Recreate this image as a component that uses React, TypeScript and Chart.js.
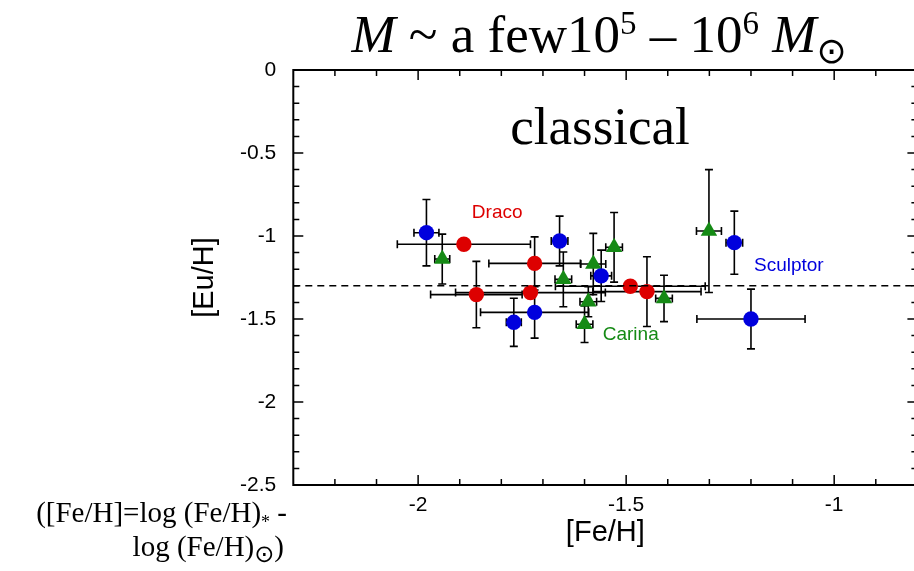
import React, { useEffect, useRef } from "react";
import { Chart, registerables } from "chart.js";

Chart.register(...registerables);

// ---- data ----
// Sculptor (blue circles)
const sculptorFeH = [-1.98, -1.66, -1.56, -1.72, -1.77, -1.24, -1.2];
const sculptorEuH = [-0.98, -1.03, -1.24, -1.46, -1.52, -1.04, -1.5];
const sculptorFeErr = [0.03, 0.02, 0.025, 0.13, 0.018, 0.02, 0.13];
const sculptorEuErr = [0.2, 0.15, 0.155, 0.155, 0.145, 0.19, 0.18];

// Draco (red circles)
const dracoFeH = [-1.89, -1.72, -1.86, -1.73, -1.49, -1.45];
const dracoEuH = [-1.05, -1.165, -1.353, -1.341, -1.303, -1.335];
const dracoFeErr = [0.16, 0.11, 0.11, 0.18, 0.18, 0.13];
const dracoEuErr = [0, 0.16, 0.2, 0, 0, 0.21];

// Carina (green triangles)
const carinaFeH = [-1.942, -1.651, -1.579, -1.529, -1.591, -1.6, -1.409, -1.301];
const carinaEuH = [-1.139, -1.261, -1.169, -1.068, -1.396, -1.532, -1.376, -0.97];
const carinaFeErr = [0.018, 0.02, 0.03, 0.02, 0.02, 0.02, 0.02, 0.03];
const carinaEuErr = [0.15, 0.165, 0.185, 0.21, 0.09, 0.11, 0.14, 0.37];

// horizontal dashed reference level
const refEuH = -1.3;

// axes
const xMin = -2.3;
const xMax = -0.8;
const yMin = -2.5;
const yMax = 0;
const xTickValues = [-2, -1.5, -1];
const yTickValues = [0, -0.5, -1, -1.5, -2, -2.5];
const minorStep = 0.1;

// in-plot labels
const labelTexts = ["Draco", "Sculptor", "Carina"];
const labelFeH = [-1.81, -1.109, -1.489];
const labelEuH = [-0.862, -1.178, -1.592];

const RED = "#dd0000";
const BLUE = "#0000dd";
const GREEN = "#158a15";
const labelColors = [RED, BLUE, GREEN];

const SANS = '"Liberation Sans", Arial, Helvetica, sans-serif';
const SERIF = '"Liberation Serif", "Times New Roman", serif';

const CANVAS_W = 930;
const CANVAS_H = 571;
const AREA_LEFT = 293.3;
const AREA_RIGHT = 917.4;
const AREA_TOP = 70;
const AREA_BOTTOM = 485;

function toPoints(xs: number[], ys: number[], xe: number[], ye: number[]) {
  return xs.map((x, i) => ({ x, y: ys[i], xErr: xe[i], yErr: ye[i] }));
}

type Run = { text: string; font: string; dy: number };

function drawRuns(ctx: CanvasRenderingContext2D, runs: Run[], x: number, y: number, align: "left" | "center" | "right") {
  let w = 0;
  for (const r of runs) {
    ctx.font = r.font;
    w += ctx.measureText(r.text).width;
  }
  let cx = align === "left" ? x : align === "center" ? x - w / 2 : x - w;
  ctx.textAlign = "left";
  ctx.textBaseline = "alphabetic";
  for (const r of runs) {
    ctx.font = r.font;
    ctx.fillText(r.text, cx, y + r.dy);
    cx += ctx.measureText(r.text).width;
  }
}

const errorBarPlugin = {
  id: "errorBars",
  beforeDatasetsDraw(chart: any) {
    const ctx: CanvasRenderingContext2D = chart.ctx;
    const xs = chart.scales.x;
    const ys = chart.scales.y;
    const cap = 4;
    ctx.save();
    ctx.strokeStyle = "#000";
    ctx.lineWidth = 1.6;
    chart.data.datasets.forEach((ds: any) => {
      if (!ds.hasErrors) return;
      ds.data.forEach((p: any) => {
        const px = xs.getPixelForValue(p.x);
        const py = ys.getPixelForValue(p.y);
        if (p.xErr > 0) {
          const l = xs.getPixelForValue(p.x - p.xErr);
          const r = xs.getPixelForValue(p.x + p.xErr);
          ctx.beginPath();
          ctx.moveTo(l, py);
          ctx.lineTo(r, py);
          ctx.moveTo(l, py - cap);
          ctx.lineTo(l, py + cap);
          ctx.moveTo(r, py - cap);
          ctx.lineTo(r, py + cap);
          ctx.stroke();
        }
        if (p.yErr > 0) {
          const t = ys.getPixelForValue(p.y + p.yErr);
          const b = ys.getPixelForValue(p.y - p.yErr);
          ctx.beginPath();
          ctx.moveTo(px, t);
          ctx.lineTo(px, b);
          ctx.moveTo(px - cap, t);
          ctx.lineTo(px + cap, t);
          ctx.moveTo(px - cap, b);
          ctx.lineTo(px + cap, b);
          ctx.stroke();
        }
      });
    });
    ctx.restore();
  },
};

const decorPlugin = {
  id: "decor",
  afterDraw(chart: any) {
    const ctx: CanvasRenderingContext2D = chart.ctx;
    const xs = chart.scales.x;
    const ys = chart.scales.y;
    const { left, right, top, bottom } = chart.chartArea;
    ctx.save();

    // frame
    ctx.strokeStyle = "#000";
    ctx.lineWidth = 2;
    ctx.strokeRect(left, top, right - left, bottom - top);

    // inward ticks
    ctx.lineWidth = 1.5;
    const nx = Math.round((xMax - xMin) / minorStep);
    for (let i = 1; i < nx; i++) {
      const v = xMin + i * minorStep;
      const major = Math.abs(v * 2 - Math.round(v * 2)) < 1e-6;
      const len = major ? 10 : 6;
      const px = xs.getPixelForValue(v);
      ctx.beginPath();
      ctx.moveTo(px, bottom);
      ctx.lineTo(px, bottom - len);
      ctx.moveTo(px, top);
      ctx.lineTo(px, top + len);
      ctx.stroke();
    }
    const ny = Math.round((yMax - yMin) / minorStep);
    for (let i = 1; i < ny; i++) {
      const v = yMin + i * minorStep;
      const major = Math.abs(v * 2 - Math.round(v * 2)) < 1e-6;
      const len = major ? 10 : 6;
      const py = ys.getPixelForValue(v);
      ctx.beginPath();
      ctx.moveTo(left, py);
      ctx.lineTo(left + len, py);
      ctx.moveTo(right, py);
      ctx.lineTo(right - len, py);
      ctx.stroke();
    }

    // in-plot labels
    ctx.textAlign = "center";
    ctx.textBaseline = "middle";
    ctx.font = `19px ${SANS}`;
    labelTexts.forEach((t, i) => {
      ctx.fillStyle = labelColors[i];
      ctx.fillText(t, xs.getPixelForValue(labelFeH[i]), ys.getPixelForValue(labelEuH[i]));
    });

    ctx.fillStyle = "#000";
    // "classical"
    ctx.font = `53px ${SERIF}`;
    ctx.textAlign = "center";
    ctx.textBaseline = "alphabetic";
    ctx.fillText("classical", 600, 144);

    // title
    const big = `53px ${SERIF}`;
    const bigI = `italic 53px ${SERIF}`;
    const sup = `33px ${SERIF}`;
    drawRuns(
      ctx,
      [
        { text: "M", font: bigI, dy: 0 },
        { text: " ~ a few10", font: big, dy: 0 },
        { text: "5", font: sup, dy: -18 },
        { text: " \u2013 10", font: big, dy: 0 },
        { text: "6", font: sup, dy: -18 },
        { text: " ", font: big, dy: 0 },
        { text: "M", font: bigI, dy: 0 },
        { text: "\u2299", font: `36px "DejaVu Sans", sans-serif`, dy: 11 },
      ],
      599,
      52,
      "center"
    );

    // axis titles
    ctx.font = `29px ${SANS}`;
    ctx.textAlign = "center";
    ctx.textBaseline = "alphabetic";
    ctx.fillText("[Fe/H]", (left + right) / 2, 541);
    ctx.save();
    ctx.translate(213, (top + bottom) / 2);
    ctx.rotate(-Math.PI / 2);
    ctx.fillText("[Eu/H]", 0, 0);
    ctx.restore();

    // footnote
    const fn = `29px ${SERIF}`;
    drawRuns(
      ctx,
      [
        { text: "([Fe/H]=log (Fe/H)", font: fn, dy: 0 },
        { text: "*", font: `18px ${SERIF}`, dy: 6 },
        { text: " -", font: fn, dy: 0 },
      ],
      287,
      522,
      "right"
    );
    drawRuns(
      ctx,
      [
        { text: "log (Fe/H)", font: fn, dy: 0 },
        { text: "\u2299", font: `24px "DejaVu Sans", sans-serif`, dy: 6 },
        { text: ")", font: fn, dy: 0 },
      ],
      284,
      556,
      "right"
    );

    ctx.restore();
  },
};

export default function App() {
  const canvasRef = useRef<HTMLCanvasElement | null>(null);

  useEffect(() => {
    const canvas = canvasRef.current;
    if (!canvas) return;
    const tickFont = { family: SANS, size: 21 };
    const chart = new Chart(canvas, {
      type: "scatter",
      data: {
        datasets: [
          {
            type: "line",
            label: "reference",
            data: [
              { x: xMin, y: refEuH },
              { x: xMax, y: refEuH },
            ],
            borderColor: "#000",
            borderWidth: 1.5,
            borderDash: [7, 5],
            pointRadius: 0,
            fill: false,
            order: 0,
          } as any,
          {
            label: "Draco",
            data: toPoints(dracoFeH, dracoEuH, dracoFeErr, dracoEuErr),
            hasErrors: true,
            pointStyle: "circle",
            pointRadius: 7.7,
            pointHoverRadius: 7.7,
            pointBackgroundColor: RED,
            backgroundColor: RED,
            pointBorderWidth: 0,
            borderWidth: 0,
            order: 1,
          } as any,
          {
            label: "Sculptor",
            data: toPoints(sculptorFeH, sculptorEuH, sculptorFeErr, sculptorEuErr),
            hasErrors: true,
            pointStyle: "circle",
            pointRadius: 7.7,
            pointHoverRadius: 7.7,
            pointBackgroundColor: BLUE,
            backgroundColor: BLUE,
            pointBorderWidth: 0,
            borderWidth: 0,
            order: 1,
          } as any,
          {
            label: "Carina",
            data: toPoints(carinaFeH, carinaEuH, carinaFeErr, carinaEuErr),
            hasErrors: true,
            pointStyle: "triangle",
            pointRadius: 9.5,
            pointHoverRadius: 9.5,
            pointBackgroundColor: GREEN,
            backgroundColor: GREEN,
            pointBorderWidth: 0,
            borderWidth: 0,
            order: 1,
          } as any,
        ],
      },
      options: {
        responsive: false,
        animation: false,
        events: [],
        layout: {
          padding: { top: AREA_TOP, right: CANVAS_W - AREA_RIGHT, left: 0, bottom: 0 },
        },
        plugins: {
          legend: { display: false },
          title: { display: false },
          tooltip: { enabled: false },
        },
        scales: {
          x: {
            type: "linear",
            position: "bottom",
            min: xMin,
            max: xMax,
            grid: { display: false, drawTicks: false },
            border: { display: false },
            ticks: {
              font: tickFont,
              color: "#000",
              padding: 8,
              autoSkip: false,
              maxRotation: 0,
              callback: (v: any) => String(v),
            },
            afterBuildTicks: (s: any) => {
              s.ticks = xTickValues.map((v) => ({ value: v }));
            },
            afterFit: (s: any) => {
              s.height = CANVAS_H - AREA_BOTTOM;
            },
          },
          y: {
            type: "linear",
            position: "left",
            min: yMin,
            max: yMax,
            grid: { display: false, drawTicks: false },
            border: { display: false },
            ticks: {
              font: tickFont,
              color: "#000",
              padding: 17,
              autoSkip: false,
              callback: (v: any) => String(v),
            },
            afterBuildTicks: (s: any) => {
              s.ticks = yTickValues.map((v) => ({ value: v }));
            },
            afterFit: (s: any) => {
              s.width = AREA_LEFT;
            },
          },
        },
      } as any,
      plugins: [errorBarPlugin, decorPlugin],
    });
    return () => chart.destroy();
  }, []);

  return (
    <div
      style={{
        position: "fixed",
        left: 0,
        top: 0,
        width: 914,
        height: 571,
        overflow: "hidden",
        background: "#fff",
      }}
    >
      <canvas
        ref={canvasRef}
        width={CANVAS_W}
        height={CANVAS_H}
        style={{ display: "block", width: CANVAS_W, height: CANVAS_H }}
      />
    </div>
  );
}
